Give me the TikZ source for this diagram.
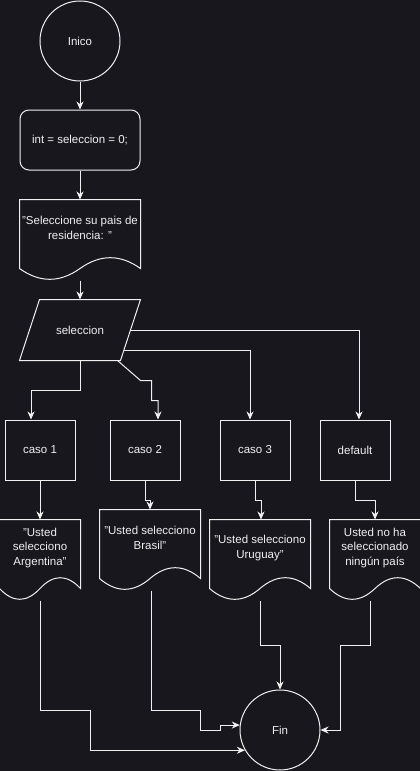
\documentclass[tikz,border=0pt]{standalone}
\usepackage{fontspec}
\setmainfont{Liberation Sans}
\usetikzlibrary{arrows.meta,calc}
\definecolor{bgdark}{HTML}{18171E}
\definecolor{ink}{HTML}{F0F0F0}
\newcommand\docoutline[1]{%
  \draw[draw=ink] (#1.north west) -- (#1.north east) -- ($(#1.south east)+(0,12)$)
    .. controls ($(#1.south west)!0.8333!(#1.south east)+(0,-2.4)$)
           and ($(#1.south west)!0.6667!(#1.south east)+(0,-2.4)$) .. ($(#1.south)+(0,12)$)
    .. controls ($(#1.south west)!0.3333!(#1.south east)+(0,26.4)$)
           and ($(#1.south west)!0.1667!(#1.south east)+(0,26.4)$) .. ($(#1.south west)+(0,12)$)
    -- cycle;}
\begin{document}
\begin{tikzpicture}[x=1pt, y=-1pt, line width=1pt,
  every node/.style={font=\fontsize{11.5}{14.5}\selectfont, text=ink, align=center},
  term/.style={circle, draw=ink, minimum size=80pt, inner sep=0pt},
  box/.style={rectangle, draw=ink, minimum width=70pt, minimum height=60pt},
  docbox/.style={rectangle, minimum width=#1, minimum height=56pt, inner sep=0pt},
  flow/.style={draw=ink, -{Stealth[length=8pt,width=7pt,inset=2.5pt]}}]
  \fill[bgdark] (0,0) rectangle (420,771);
  \useasboundingbox (0,0) rectangle (420,771);

  \node[term] (ini) at (80,41) {Inico};
  \node[box, rounded corners=9pt, minimum width=120pt] (var) at (80,140) {int = seleccion = 0;};
  \node[docbox=120pt] (msg) at (80,228) {"Seleccione su pais de\\residencia: "};
  \docoutline{msg}
  \coordinate (msgb) at ([yshift=-24pt]msg.south);

  \node[minimum width=100pt, minimum height=60pt, inner sep=0pt] (sel) at (80,330) {seleccion};
  \coordinate (selTL) at ([xshift=10pt]sel.north west);
  \coordinate (selTR) at ([xshift=10pt]sel.north east);
  \coordinate (selBR) at ([xshift=-10pt]sel.south east);
  \coordinate (selBL) at ([xshift=-10pt]sel.south west);
  \draw[draw=ink] (selTL) -- (selTR) -- (selBR) -- (selBL) -- cycle;

  \node[box] (c1) at (40,450)  {caso 1};
  \node[box] (c2) at (145,450) {caso 2};
  \node[box] (c3) at (255,450) {caso 3};
  \node[box] (c4) at (355,450) {default};

  \node[docbox=80pt]  (d1) at (40,548)  {"Usted\\selecciono\\Argentina"};
  \node[docbox=100pt] (d2) at (150,538) {"Usted selecciono\\Brasil"};
  \node[docbox=100pt] (d3) at (260,548) {"Usted selecciono\\Uruguay"};
  \node[docbox=90pt]  (d4) at (375,548) {Usted no ha\\seleccionado\\ningún país};
  \docoutline{d1}
  \docoutline{d2}
  \docoutline{d3}
  \docoutline{d4}
  \coordinate (d1b) at ([yshift=-24pt]d1.south);
  \coordinate (d2b) at ([xshift=1pt,yshift=-24pt]d2.south);
  \coordinate (d3b) at ([yshift=-24pt]d3.south);
  \coordinate (d4b) at ([xshift=-5pt,yshift=-24pt]d4.south);

  \node[term] (fin) at (280,730) {Fin};

  \draw[flow] (ini) -- (var);
  \draw[flow] (var) -- (msg);
  \draw[flow] (msgb) -- (sel.north);
  \draw[flow] (sel.south) -- ++(0,30) -| ([xshift=-9pt]c1.north);
  \draw[flow] ([xshift=-3pt]selBR) -- ++(23,20) -- ++(11,0) -- ++(0,20) -| ([xshift=13pt]c2.north);
  \draw[flow] ($(selTR)!0.8333!(selBR)$) -| ([xshift=-5pt]c3.north);
  \draw[flow] ($(selTR)!0.5!(selBR)$) -| ([xshift=4pt]c4.north);

  \draw[flow] (c1) -- (d1);
  \draw[flow] (c2.south) -- ++(0,20) -| (d2.north);
  \draw[flow] (c3.south) -- ++(0,20) -| ([xshift=1pt]d3.north);
  \draw[flow] (c4.south) -- ++(0,20) -| (d4.north);

  \draw[flow] (d1b) -- ++(0,110) -- ++(50,0) |- (fin.210);
  \draw[flow] (d2b) -- ++(0,120) -- ++(49,0) -- ++(0,20) -- ++(20,0) |- (fin.173);
  \draw[flow] (d3b) -- ++(0,45) -| (fin.north);
  \draw[flow] (d4b) -- ++(0,45) -- ++(-30,0) |- (fin.east);
\end{tikzpicture}
\end{document}
